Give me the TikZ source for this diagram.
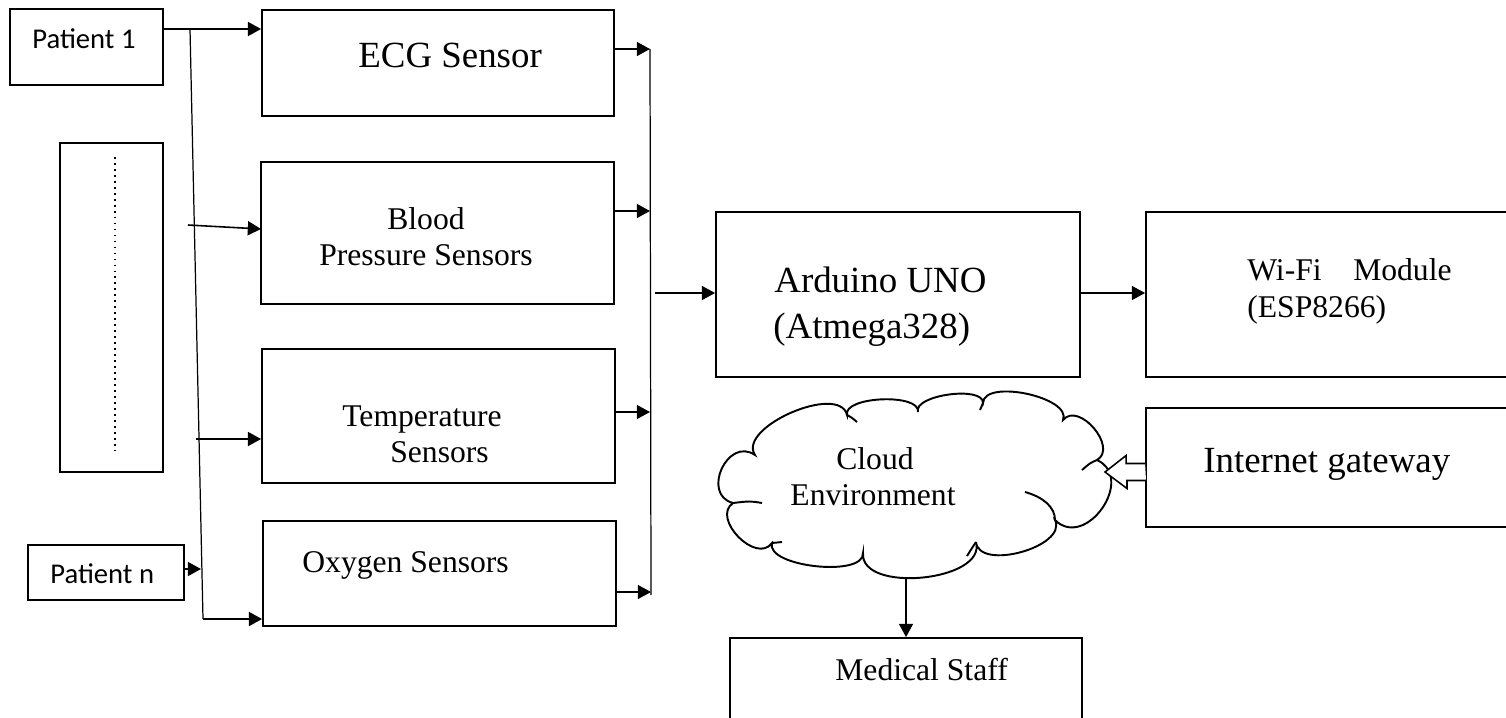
\documentclass[tikz,border=0pt]{standalone}
\usepackage{fontspec}
\setmainfont{Liberation Serif}
\newfontfamily\calib{Carlito}
\usetikzlibrary{arrows.meta,calc}
\newcommand\puff[3]{.. controls ($(#1)!#3!-100:(#2)$) and ($(#2)!#3!100:(#1)$) .. (#2)}
\tikzset{
  box/.style={draw, line width=1.1pt, inner sep=0pt},
  arr/.style={-{Triangle[length=7.5pt,width=8pt]}, line width=0.9pt},
  thinarr/.style={-{Triangle[length=7.5pt,width=8pt]}, line width=0.6pt},
  busline/.style={line width=0.7pt},
  dotline/.style={line width=1.6pt, dash pattern=on 1pt off 2.4pt},
  txt/.style={inner sep=0pt, font=\fontsize{18}{21}\selectfont},
  bigtxt/.style={inner sep=0pt, font=\fontsize{21}{25}\selectfont},
  pat/.style={inner sep=0pt, font=\calib\fontsize{16.3}{19}\selectfont},
  cloudline/.style={line width=1.1pt}
}
\begin{document}
\begin{tikzpicture}[x=0.02cm, y=-0.02cm]
\useasboundingbox (0,0) rectangle (1506,717);
\fill[white] (0,0) rectangle (1506,717);
\clip (0,0) rectangle (1506,717);

% patients
\node[box, minimum width=3.06cm, minimum height=1.52cm] (p1) at (86.5,47) {};
\node[pat, anchor=base west] (p1t) at (32,48) {Patient 1};
\node[box, minimum width=2.06cm, minimum height=6.58cm] (dots) at (111.5,307.5) {};
\coordinate (dotA) at (115,157);
\coordinate (dotB) at (115,455);
\draw[dotline] (dotA) -- (dotB);
\node[box, minimum width=3.12cm, minimum height=1.10cm] (pn) at (106,572.5) {};
\node[pat, anchor=base west] (pnt) at (50,583) {Patient n};

% sensors
\node[box, minimum width=7.04cm, minimum height=2.12cm] (ecg) at (438,63) {};
\node[bigtxt, anchor=base west] (ecgt) at (358,67) {ECG Sensor};
\node[box, minimum width=7.06cm, minimum height=2.84cm] (bp) at (437.5,233) {};
\node[txt, anchor=base] (bpt1) at (426,229) {Blood};
\node[txt, anchor=base] (bpt2) at (426,265) {Pressure Sensors};
\node[box, minimum width=7.06cm, minimum height=2.68cm] (temp) at (438.5,416) {};
\node[txt, anchor=base west] (tt1) at (342,426) {Temperature};
\node[txt, anchor=base west] (tt2) at (390,462) {Sensors};
\node[box, minimum width=7.06cm, minimum height=2.10cm] (oxy) at (439.5,573.5) {};
\node[txt, anchor=base west] (oxt) at (302,572) {Oxygen Sensors};

% controller and network
\node[box, minimum width=7.28cm, minimum height=3.30cm] (ard) at (898,294.5) {};
\node[bigtxt, anchor=base west] (ardt1) at (774,292) {Arduino UNO};
\node[bigtxt, anchor=base west] (ardt2) at (773,338) {(Atmega328)};
\node[box, minimum width=7.68cm, minimum height=3.30cm] (wifi) at (1338,294.5) {};
\node[txt, anchor=base west] (wifit1) at (1247,280) {Wi-Fi\ \ \ \ Module};
\node[txt, anchor=base west] (wifit2) at (1247,317) {(ESP8266)};
\node[box, minimum width=7.68cm, minimum height=2.38cm] (inet) at (1338,467.5) {};
\node[bigtxt, anchor=base west] (inett) at (1203,472) {Internet gateway};
\node[box, minimum width=7.04cm, minimum height=2.44cm] (med) at (906,699) {};
\node[txt, anchor=base west] (medt) at (835,680) {Medical Staff};

% cloud
\node[minimum width=7.76cm, minimum height=3.66cm, inner sep=0pt] (cloud) at (913,485.5) {};
\coordinate (k1) at (755,455);
\coordinate (k2) at (733,503);
\coordinate (k3) at (772,543);
\coordinate (k4) at (863,553);
\coordinate (k5) at (976,542);
\coordinate (k6) at (1055,520);
\coordinate (k7) at (1097,460);
\coordinate (k8) at (1063,420);
\coordinate (k9) at (983,403);
\coordinate (k10) at (918,412);
\coordinate (k11) at (847,415);
\draw[cloudline, fill=white] (k1) \puff{k1}{k2}{0.63} \puff{k2}{k3}{0.48} \puff{k3}{k4}{0.27}
  \puff{k4}{k5}{0.36} \puff{k5}{k6}{0.36} \puff{k6}{k7}{0.59} \puff{k7}{k8}{0.47}
  \puff{k8}{k9}{0.30} \puff{k9}{k10}{0.27} \puff{k10}{k11}{0.27} \puff{k11}{k1}{0.33} -- cycle;
\draw[cloudline] (k11) .. controls (851,417) .. (857,422);
\draw[cloudline] (k9) .. controls (982,406) .. (980,410);
\draw[cloudline] (1082,470) .. controls (1090,463) .. (k7);
\draw[cloudline] (1025,492) .. controls (1043,497) and (1055,507) .. (k6);
\draw[cloudline] (762,503) .. controls (750,501) .. (k2);
\draw[cloudline] (782,542) .. controls (777,542) .. (k3);
\draw[cloudline] (976,542) .. controls (972,548) .. (967,556);
\node[txt, anchor=base] (cloudt1) at (875,469) {Cloud};
\node[txt, anchor=base] (cloudt2) at (873,505) {Environment};

% left distribution
\coordinate (lbTop) at (190,29);
\coordinate (lbBot) at (203,619);
\coordinate (bpFrom) at (188,225);
\coordinate (bpIn) at (261,229);
\coordinate (tFrom) at (196,439);
\coordinate (pnIn) at (201,569);
\draw[arr] (p1.east |- lbTop) -- (ecg.west |- lbTop);
\draw[busline] (lbTop) -- (lbBot);
\draw[arr] (lbBot) -- (oxy.west |- lbBot);
\draw[arr] (bpFrom) -- (bpIn);
\draw[arr] (tFrom) -- (tFrom -| temp.west);
\draw[arr] (pn.east |- pnIn) -- (pnIn);

% right collection bus
\coordinate (rb1) at (650,49);
\coordinate (rb2) at (650,211);
\coordinate (rb3) at (650,412);
\coordinate (rb4) at (651,592);
\coordinate (rbBot) at (651,595);
\coordinate (aIn) at (655,293);
\draw[busline] (rb1) -- (rbBot);
\draw[thinarr] (ecg.east |- rb1) -- (rb1);
\draw[thinarr] (bp.east |- rb2) -- (rb2);
\draw[thinarr] (temp.east |- rb3) -- (rb3);
\draw[thinarr] (oxy.east |- rb4) -- (rb4);
\draw[thinarr] (aIn) -- (aIn -| ard.west);
\draw[thinarr] (ard.east |- aIn) -- (wifi.west |- aIn);

% cloud to staff
\draw[thinarr] (med.north |- cloud.south) -- (med.north);

% hollow arrow from gateway to cloud
\coordinate (hTip) at (1105,472);
\draw[line width=0.9pt, fill=white] (inet.west |- hTip) ++(0,-8.5) -- ++(-19,0) -- ++(0,-8) -- (hTip)
  -- ++(22,16.5) -- ++(0,-8) -- ++(19,0);
\end{tikzpicture}
\end{document}
